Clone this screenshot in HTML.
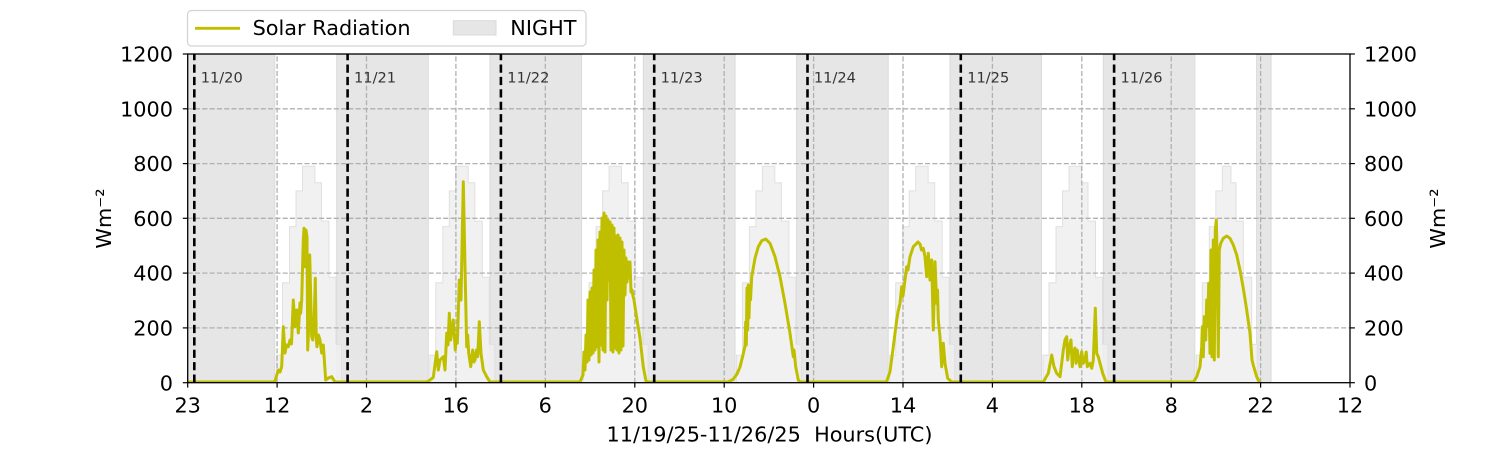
<!DOCTYPE html>
<html>
<head>
<meta charset="utf-8">
<style>
  html, body { margin:0; padding:0; background:#fff; }
  svg { display:block; }
  text { font-family: "DejaVu Sans", "Liberation Sans", sans-serif; }
</style>
</head>
<body>
<svg width="1500" height="450" viewBox="0 0 1500 450" xmlns="http://www.w3.org/2000/svg">
  <defs>
    <path id="cs" d="M-26,382.7 V355.3 H-20 V282.7 H-13 V226.6 H-6.5 V190.9 H0 V166.3 H12.4 V182.7 H19 V221.1 H26.5 V277.2 H33.5 V344.4 H39 V382.7 Z"/>
    <clipPath id="plot"><rect x="187.7" y="54" width="1162.3" height="328.7"/></clipPath>
  </defs>
  <rect width="1500" height="450" fill="#fff"/>

  <g clip-path="url(#plot)">
    <!-- night bands -->
    <g fill="#e6e6e6" stroke="#dadada" stroke-width="1">
      <rect x="183.4" y="54" width="91.4" height="328.7"/>
      <rect x="336.7" y="54" width="91.6" height="328.7"/>
      <rect x="490.0" y="54" width="91.6" height="328.7"/>
      <rect x="643.3" y="54" width="91.7" height="328.7"/>
      <rect x="796.6" y="54" width="91.6" height="328.7"/>
      <rect x="950.0" y="54" width="91.5" height="328.7"/>
      <rect x="1103.3" y="54" width="91.5" height="328.7"/>
      <rect x="1256.6" y="54" width="14.4" height="328.7"/>
    </g>
    <!-- clear-sky step fill -->
    <g fill="#efefef" fill-opacity="0.85" stroke="#e0e0e0" stroke-width="1">
      <use href="#cs" x="302.5"/>
      <use href="#cs" x="455.8"/>
      <use href="#cs" x="609.1"/>
      <use href="#cs" x="762.4"/>
      <use href="#cs" x="915.7"/>
      <use href="#cs" x="1069"/>
      <path d="M1196.3,382.7 V355.3 H1202.3 V282.7 H1209.3 V226.6 H1215.8 V190.9 H1222.3 V166.3 H1231 V182.7 H1236 V221.1 H1243.3 V277.2 H1251.7 V344.4 H1257.7 V382.7 Z"/>
    </g>

    <!-- grid -->
    <g stroke="#b0b0b0" stroke-width="1.3" stroke-dasharray="5.1 2.2" fill="none">
      <line x1="187.7" y1="327.9" x2="1350" y2="327.9"/>
      <line x1="187.7" y1="273.1" x2="1350" y2="273.1"/>
      <line x1="187.7" y1="218.3" x2="1350" y2="218.3"/>
      <line x1="187.7" y1="163.6" x2="1350" y2="163.6"/>
      <line x1="187.7" y1="108.8" x2="1350" y2="108.8"/>
      <line x1="277.1" y1="382.7" x2="277.1" y2="54"/>
      <line x1="366.5" y1="382.7" x2="366.5" y2="54"/>
      <line x1="455.9" y1="382.7" x2="455.9" y2="54"/>
      <line x1="545.3" y1="382.7" x2="545.3" y2="54"/>
      <line x1="634.8" y1="382.7" x2="634.8" y2="54"/>
      <line x1="724.2" y1="382.7" x2="724.2" y2="54"/>
      <line x1="813.6" y1="382.7" x2="813.6" y2="54"/>
      <line x1="903.0" y1="382.7" x2="903.0" y2="54"/>
      <line x1="992.4" y1="382.7" x2="992.4" y2="54"/>
      <line x1="1081.8" y1="382.7" x2="1081.8" y2="54"/>
      <line x1="1171.2" y1="382.7" x2="1171.2" y2="54"/>
      <line x1="1260.6" y1="382.7" x2="1260.6" y2="54"/>
    </g>

    <!-- solar radiation -->
    <polyline fill="none" stroke="#bfbf00" stroke-width="3" stroke-linejoin="round" stroke-linecap="round" points="
      188,382 273,382 275,381 278.3,370 280,372 281.7,366.7 283.3,326.7 285,353 286.5,345 288.3,346.7 290,340 291.5,344 293.3,300 295,326.7 296.7,310 298.3,333 300,303 300.7,313.3 301.7,300 303.3,240 304,228.3 305,266.7 306,230 307,236.7 307.7,350 308.7,326.7 309.7,255 310.7,296.7 311.7,336.7 312.7,340 314,326.7 315.3,278.3 316.3,340 317,346.7 318.5,335 320,340 321.7,353 323.3,345 325.7,380 328.3,378 331.7,376.7 335,382
      426.7,382 430,380 433.3,377.3 436.7,351.7 438.3,370 440,360 443.3,356.7 445,370 446.7,333.3 448,345 449.3,313.3 450.7,340 452,328 453.3,320 455.3,350 456.3,335 457.3,343.3 459.3,280 461,300 463.3,181.7 465,266.7 466.7,346.7 467.7,335 468.7,353 470.7,366.7 472.7,350 474,362 475,360 476.5,350 477.7,356.7 479.3,321.7 481,353.3 483.3,370 486.7,376.7 490,382
      580,382 583,375 584,352 585,370 586,335 587,362 588,300 589,360 590,292 591,355 592,288 593,353 594,270 595,350 596,250 597,347 598,240 599,362 600,232 601,345 602,218 603,350 604,213 605,352 606,216 607,300 608,220 609,280 610,222 611,350 612,225 613,352 614,228 615,348 616,236 617,350 618,235 619,353 620,238 621,350 622,242 623,346 624,250 625,295 626,258 627,282 628,262 629,278 630,262 631,292 632,290 633,296 634,300 636.7,318 640,338 643.3,367 646,381 648,382
      728,382 733,379.5 737,374 740,367 743,355 745,346 745.7,322 746.3,345 747,288 747.7,330 748.3,285 749,318 749.7,290 750.5,300 751.7,277 755,258.3 758.3,246.7 761.7,240.7 765.7,239 770,243.3 775,256.7 780,276.7 785,303.3 790,333.3 793.3,356.7 794,350 795.7,366.7 798.3,380 800,382
      885,382 886.7,381.5 890,371.7 893.3,346.7 896.7,320 898,312 900,303.3 901.7,286.7 903,296 905,280 906.7,266.7 908,270 910,256.7 913.3,246.7 916.7,243.3 918,242 920,244 921.5,250 923.3,248.3 925,256.7 926.7,276.7 928.3,253.3 930,280 931.7,260 933.3,330 935,261.7 936.7,303.3 937.5,290 938.3,320 940,336.7 941.7,366.7 943.3,343.3 945,363.3 947.7,378.3 951.7,382
      1043.3,382 1048.3,373.3 1051.7,355 1054,366.7 1056.7,373.3 1060,376.7 1061.7,363.3 1063.3,350 1065,340 1066.7,336.7 1067.7,360 1069.3,346.7 1071,340 1072.3,366.7 1073.2,350 1074,356.7 1075,348 1076,363.3 1077.2,350 1078.3,356.7 1080,366.7 1081.7,351.7 1082.5,358 1083.3,363.3 1085,360 1086.2,352 1087.3,366.7 1090,363.3 1091.7,368.3 1093.3,360 1095.3,308.3 1096.7,353.3 1098.3,356.7 1100,363.3 1102.7,373.3 1106,382
      1193.3,382 1196.7,376.7 1200,366.7 1201.7,346.7 1202.3,326.7 1203.3,356.7 1204.3,316.7 1205.7,340 1206.7,300 1207.7,326.7 1208.7,283.3 1210,353.3 1211,250 1212,356.7 1213.3,240 1214.3,360 1215.3,230 1216.3,220 1217.3,266.7 1218.3,356.7 1219.3,250 1220.7,243.3 1223.3,238.3 1226.7,236 1230,238.3 1233.3,245 1236.7,255 1240,270 1243.3,288.3 1246.7,310 1250,333.3 1252,360 1253.5,366 1256.7,376.7 1259.5,382.5"/>

    <!-- midnight lines -->
    <g stroke="#000" stroke-width="2.6" stroke-dasharray="8.2 4.2" fill="none">
      <line x1="194.3" y1="382.7" x2="194.3" y2="54"/>
      <line x1="347.6" y1="382.7" x2="347.6" y2="54"/>
      <line x1="500.9" y1="382.7" x2="500.9" y2="54"/>
      <line x1="654.2" y1="382.7" x2="654.2" y2="54"/>
      <line x1="807.5" y1="382.7" x2="807.5" y2="54"/>
      <line x1="960.8" y1="382.7" x2="960.8" y2="54"/>
      <line x1="1114.1" y1="382.7" x2="1114.1" y2="54"/>
    </g>
  </g>

  <!-- date labels -->
  <g font-size="14.6" fill="#333">
    <text x="200.7" y="82.3">11/20</text>
    <text x="354.0" y="82.3">11/21</text>
    <text x="507.3" y="82.3">11/22</text>
    <text x="660.6" y="82.3">11/23</text>
    <text x="813.9" y="82.3">11/24</text>
    <text x="967.2" y="82.3">11/25</text>
    <text x="1120.5" y="82.3">11/26</text>
  </g>

  <!-- spines -->
  <rect x="187.7" y="54" width="1162.3" height="328.7" fill="none" stroke="#000" stroke-width="1.3"/>

  <!-- ticks -->
  <g stroke="#000" stroke-width="1.2">
    <line x1="182.8" y1="382.7" x2="187.7" y2="382.7"/>
    <line x1="182.8" y1="327.9" x2="187.7" y2="327.9"/>
    <line x1="182.8" y1="273.1" x2="187.7" y2="273.1"/>
    <line x1="182.8" y1="218.3" x2="187.7" y2="218.3"/>
    <line x1="182.8" y1="163.6" x2="187.7" y2="163.6"/>
    <line x1="182.8" y1="108.8" x2="187.7" y2="108.8"/>
    <line x1="182.8" y1="54" x2="187.7" y2="54"/>
    <line x1="1350" y1="382.7" x2="1354.9" y2="382.7"/>
    <line x1="1350" y1="327.9" x2="1354.9" y2="327.9"/>
    <line x1="1350" y1="273.1" x2="1354.9" y2="273.1"/>
    <line x1="1350" y1="218.3" x2="1354.9" y2="218.3"/>
    <line x1="1350" y1="163.6" x2="1354.9" y2="163.6"/>
    <line x1="1350" y1="108.8" x2="1354.9" y2="108.8"/>
    <line x1="1350" y1="54" x2="1354.9" y2="54"/>
    <line x1="187.7" y1="382.7" x2="187.7" y2="387.6"/>
    <line x1="277.1" y1="382.7" x2="277.1" y2="387.6"/>
    <line x1="366.5" y1="382.7" x2="366.5" y2="387.6"/>
    <line x1="455.9" y1="382.7" x2="455.9" y2="387.6"/>
    <line x1="545.3" y1="382.7" x2="545.3" y2="387.6"/>
    <line x1="634.8" y1="382.7" x2="634.8" y2="387.6"/>
    <line x1="724.2" y1="382.7" x2="724.2" y2="387.6"/>
    <line x1="813.6" y1="382.7" x2="813.6" y2="387.6"/>
    <line x1="903.0" y1="382.7" x2="903.0" y2="387.6"/>
    <line x1="992.4" y1="382.7" x2="992.4" y2="387.6"/>
    <line x1="1081.8" y1="382.7" x2="1081.8" y2="387.6"/>
    <line x1="1171.2" y1="382.7" x2="1171.2" y2="387.6"/>
    <line x1="1260.6" y1="382.7" x2="1260.6" y2="387.6"/>
    <line x1="1350" y1="382.7" x2="1350" y2="387.6"/>
  </g>

  <!-- tick labels -->
  <g font-size="20.8" fill="#000">
    <g text-anchor="end">
      <text x="173" y="390.3">0</text>
      <text x="173" y="335.5">200</text>
      <text x="173" y="280.7">400</text>
      <text x="173" y="225.9">600</text>
      <text x="173" y="171.2">800</text>
      <text x="173" y="116.4">1000</text>
      <text x="173" y="61.6">1200</text>
    </g>
    <g text-anchor="start">
      <text x="1364" y="390.3">0</text>
      <text x="1364" y="335.5">200</text>
      <text x="1364" y="280.7">400</text>
      <text x="1364" y="225.9">600</text>
      <text x="1364" y="171.2">800</text>
      <text x="1364" y="116.4">1000</text>
      <text x="1364" y="61.6">1200</text>
    </g>
    <g text-anchor="middle">
      <text x="187.7" y="412.6">23</text>
      <text x="277.1" y="412.6">12</text>
      <text x="366.5" y="412.6">2</text>
      <text x="455.9" y="412.6">16</text>
      <text x="545.3" y="412.6">6</text>
      <text x="634.8" y="412.6">20</text>
      <text x="724.2" y="412.6">10</text>
      <text x="813.6" y="412.6">0</text>
      <text x="903.0" y="412.6">14</text>
      <text x="992.4" y="412.6">4</text>
      <text x="1081.8" y="412.6">18</text>
      <text x="1171.2" y="412.6">8</text>
      <text x="1260.6" y="412.6">22</text>
      <text x="1350" y="412.6">12</text>
    </g>
    <text x="769.5" y="441.7" text-anchor="middle" xml:space="preserve">11/19/25-11/26/25  Hours(UTC)</text>
    <text transform="translate(111,218.5) rotate(-90)" text-anchor="middle">Wm⁻²</text>
    <text transform="translate(1445,218.5) rotate(-90)" text-anchor="middle">Wm⁻²</text>
  </g>

  <!-- legend -->
  <rect x="187.5" y="10.5" width="398.5" height="35.5" rx="4" ry="4" fill="#fff" fill-opacity="0.8" stroke="#d3d3d3" stroke-width="1.2"/>
  <line x1="195" y1="28.3" x2="240" y2="28.3" stroke="#bfbf00" stroke-width="2.8"/>
  <rect x="453.3" y="20.7" width="42.7" height="14.3" fill="#e6e6e6" stroke="#dadada" stroke-width="1"/>
  <g font-size="20.8" fill="#000">
    <text x="252.6" y="35">Solar Radiation</text>
    <text x="510.3" y="35">NIGHT</text>
  </g>
</svg>
</body>
</html>
